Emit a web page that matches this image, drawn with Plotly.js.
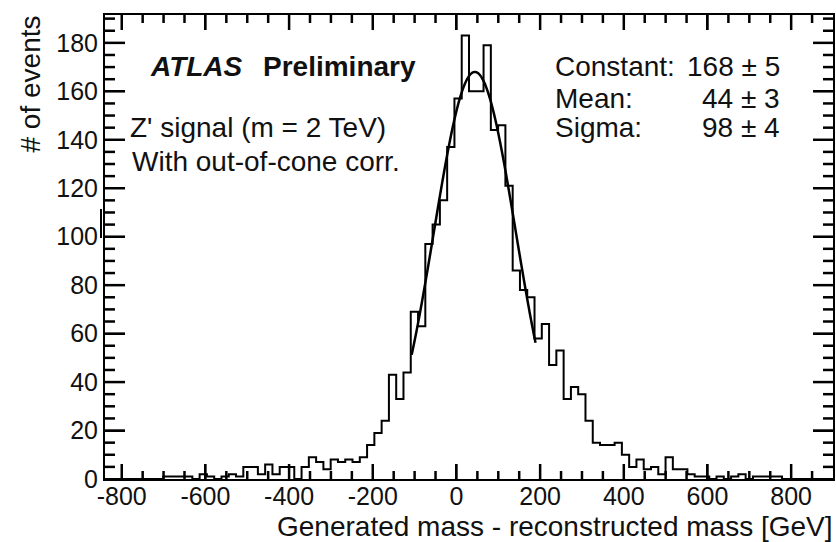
<!DOCTYPE html>
<html>
<head>
<meta charset="utf-8">
<script src="https://cdn.plot.ly/plotly-3.0.1.min.js"></script>
<style>
html,body{margin:0;padding:0;background:#fff;}
#chart{width:836px;height:542px;}
</style>
</head>
<body>
<div id="chart"></div>
<script>
// Histogram: 100 bins from -840 to 900 GeV
var binLow = -840;
var binWidth = 17.4;
var counts = [
  0,0,0,0,0,0,0,0,1,1,
  1,1,0,2,1,0,1,2,1,5,
  5,2,6,2,5,5,0,5,9,7,
  4,8,7,8,7,9,14,19,24,43,
  33,44,69,63,97,105,115,137,157,183,
  160,160,179,144,146,121,86,78,75,58,
  64,47,53,33,38,35,24,15,14,14,
  15,10,5,8,4,5,2,9,4,4,
  2,1,1,0,1,0,1,2,0,1,
  1,1,1,0,0,0,0,0,0,0
];
// Gaussian fit parameters (from stats box)
var fitConstant = 168;
var fitMean = 44;
var fitSigma = 98;
var fitRange = [-107, 189];

var xTickVals = [-800,-600,-400,-200,0,200,400,600,800];
var xTickText = ['-800','-600','-400','-200','0','200','400','600','800'];
var yTickVals = [0,20,40,60,80,100,120,140,160,180];
var yTickText = ['0','20','40','60','80','100','120','140','160','180'];
var xMinorStep = 50;
var yMinorStep = 5;

var statLabels = ['Constant:', 'Mean:', 'Sigma:'];
var statValues = ['168 \u00b1 5', '44 \u00b1 3', '98 \u00b1 4'];

var hx = [], hy = [];
for (var i = 0; i < counts.length; i++) {
  hx.push(binLow + i * binWidth);
  hy.push(counts[i]);
}
hx.push(binLow + counts.length * binWidth);
hy.push(counts[counts.length - 1]);

var fx = [], fy = [];
for (var x = fitRange[0]; x <= fitRange[1]; x += 2) {
  fx.push(x);
  fy.push(fitConstant * Math.exp(-0.5 * Math.pow((x - fitMean) / fitSigma, 2)));
}

var FONT = 'Liberation Sans, Arial, Helvetica, sans-serif';
var L = 105, R = 833, T = 15, B = 479;
var PW = R - L, PH = B - T;
function px(X){ return (X - L) / PW; }
function py(Y){ return (B - Y) / PH; }

var xRange = [binLow, binLow + counts.length * binWidth];
var yRange = [0, 191.5];
var xPerPx = (xRange[1] - xRange[0]) / PW;
var yPerPx = (yRange[1] - yRange[0]) / PH;

// inside tick marks on all four sides, in axis units
var tx = [], ty = [];
function seg(x0, y0, x1, y1) { tx.push(x0, x1, null); ty.push(y0, y1, null); }
for (var a = -800; a <= 850; a += xMinorStep) {
  var lx = (xTickVals.indexOf(a) >= 0 ? 15 : 8) * yPerPx;
  seg(a, 0, a, lx);
  seg(a, yRange[1], a, yRange[1] - lx);
}
for (var b = 5; b <= 190; b += yMinorStep) {
  var ly = (yTickVals.indexOf(b) >= 0 ? 20 : 10) * xPerPx;
  seg(xRange[0], b, xRange[0] + ly, b);
  seg(xRange[1], b, xRange[1] - ly, b);
}

var traces = [
  {x: hx, y: hy, type: 'scatter', mode: 'lines', line: {shape: 'hv', color: '#000', width: 2}, hoverinfo: 'skip'},
  {x: fx, y: fy, type: 'scatter', mode: 'lines', line: {color: '#000', width: 2.5, shape: 'spline'}, hoverinfo: 'skip'},
  {x: tx, y: ty, type: 'scatter', mode: 'lines', line: {color: '#000', width: 2.5}, hoverinfo: 'skip', connectgaps: false}
];

var ann = [];
function txt(s, X, Y, xa, size, extra) {
  var a = {text: s, xref: 'paper', yref: 'paper', x: px(X), y: py(Y), xanchor: xa, yanchor: 'middle',
    showarrow: false, font: {family: FONT, size: size, color: '#111'}};
  if (extra) for (var k in extra) a[k] = extra[k];
  ann.push(a);
}
txt('<b><i>ATLAS</i></b>', 148, 67, 'left', 28);
txt('<b>Preliminary</b>', 261, 67, 'left', 28);
txt("Z' signal (m = 2 TeV)", 128, 128, 'left', 28);
txt('With out-of-cone corr.', 130, 161, 'left', 28);
var statY = [66, 98, 128];
for (var j = 0; j < statLabels.length; j++) {
  txt(statLabels[j], 553, statY[j], 'left', 28);
  txt(statValues[j], 782, statY[j], 'right', 28);
}
txt('Generated mass - reconstructed mass [GeV]', 835, 526, 'right', 28);
txt('# of events', 30, 14, 'center', 28, {textangle: -90, yanchor: 'top'});

var layout = {
  width: 836, height: 542,
  margin: {l: L, r: 836 - R, t: T, b: 542 - B, pad: 0},
  paper_bgcolor: '#fff', plot_bgcolor: '#fff',
  showlegend: false,
  xaxis: {
    range: xRange,
    tickmode: 'array', tickvals: xTickVals, ticktext: xTickText,
    ticks: 'inside', ticklen: 15, tickwidth: 2, tickcolor: '#000',
    showline: true, linewidth: 2, linecolor: '#000', mirror: 'ticks',
    showgrid: false, zeroline: false, ticklabelstandoff: -6,
    tickfont: {family: FONT, size: 25, color: '#111'}
  },
  yaxis: {
    range: yRange,
    tickmode: 'array', tickvals: yTickVals, ticktext: yTickText,
    ticks: 'inside', ticklen: 20, tickwidth: 2, tickcolor: '#000',
    showline: true, linewidth: 2, linecolor: '#000', mirror: 'ticks',
    showgrid: false, zeroline: false,
    tickfont: {family: FONT, size: 25, color: '#111'}
  },
  annotations: ann,
  shapes: [
    {type: 'line', xref: 'paper', yref: 'paper', x0: px(101), x1: px(101), y0: py(209), y1: py(238), line: {color: '#000', width: 2}}
  ]
};

Plotly.newPlot('chart', traces, layout, {staticPlot: true, displayModeBar: false});
</script>
</body>
</html>
